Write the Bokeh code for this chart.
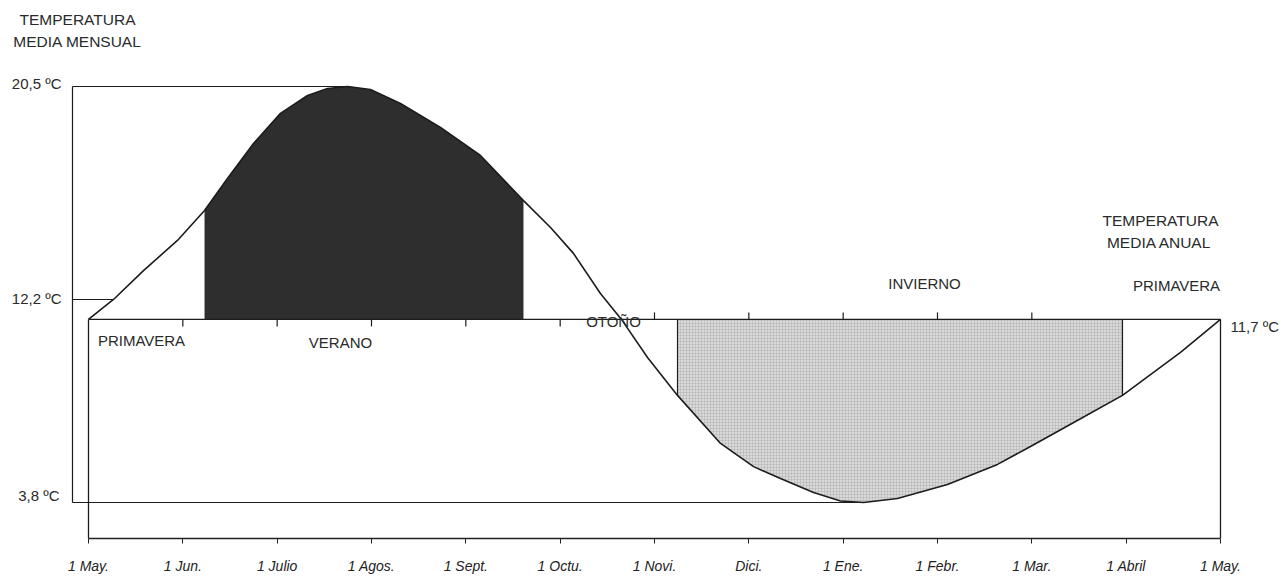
import numpy as np
from bokeh.plotting import figure
from bokeh.models import Range1d, FixedTicker, ColumnDataSource
from bokeh.core.properties import value
from bokeh.embed import file_html
from bokeh.resources import INLINE

# ---------------- data ----------------
month_labels = ["1 May.", "1 Jun.", "1 Julio", "1 Agos.", "1 Sept.", "1 Octu.",
                "1 Novi.", "Dici.", "1 Ene.", "1 Febr.", "1 Mar.", "1 Abril", "1 May."]

# months elapsed since 1 May
curve_month = [0.0, 0.265, 0.583, 0.943, 1.23, 1.473, 1.749, 2.035, 2.322, 2.534,
               2.746, 2.989, 3.307, 3.731, 4.155, 4.611, 4.898, 5.141, 5.427,
               5.650, 5.926, 6.244, 6.700, 7.050, 7.336, 7.686, 7.972, 8.216, 8.576,
               9.106, 9.636, 9.986, 10.463, 10.961, 11.576, 12.0]
# monthly mean temperature (ºC)
curve_temp = [11.15, 11.95, 13.11, 14.32, 15.52, 16.81, 18.21, 19.42, 20.14, 20.42,
              20.50, 20.38, 19.82, 18.86, 17.73, 15.92, 14.84, 13.80, 12.19,
              11.15, 9.62, 8.10, 6.17, 5.24, 4.76, 4.20, 3.86, 3.80, 3.96,
              4.52, 5.33, 6.05, 7.05, 8.10, 9.83, 11.15]

max_temp = 20.5          # "20,5 ºC"
spring_temp = 11.95      # "12,2 ºC" line as drawn
min_temp = 3.8           # "3,8 ºC"
annual_temp = 11.15      # "11,7 ºC" line as drawn

summer_span = (1.23, 4.611)    # black area
winter_span = (6.244, 10.961)  # hatched area

season_names = ["PRIMAVERA", "VERANO", "OTOÑO", "INVIERNO", "PRIMAVERA"]

# ---------------- figure ----------------
W, H = 1286, 581
PX_M = 1 / 94.333     # months per pixel
PX_T = 0.040144       # ºC per pixel
AXIS_Y = 538          # pixel row of the x axis line

def at(xp, yp):
    return (xp - 88) * PX_M, max_temp - (yp - 86) * PX_T

x0 = -88 * PX_M
p = figure(width=W, height=H, output_backend="svg", toolbar_location=None,
           x_range=Range1d(x0, x0 + W * PX_M),
           y_range=Range1d(max_temp - (AXIS_Y - 86) * PX_T, max_temp + 86 * PX_T),
           min_border_left=0, min_border_right=0, min_border_top=0,
           min_border_bottom=H - AXIS_Y, y_axis_location=None)
p.outline_line_color = None
p.grid.visible = False
p.background_fill_color = "white"
p.border_fill_color = "white"

ax = p.xaxis[0]
ax.ticker = FixedTicker(ticks=list(range(13)))
ax.major_label_overrides = {i: t for i, t in enumerate(month_labels)}
ax.bounds = (0, 12)
ax.minor_tick_line_color = None
ax.major_tick_in = 0
ax.major_tick_out = 5
ax.major_tick_line_color = "#222222"
ax.axis_line_color = "#222222"
ax.axis_line_width = 1.3
ax.major_label_standoff = 14
ax.major_label_text_font = "Liberation Sans"
ax.major_label_text_font_style = "italic"
ax.major_label_text_font_size = "14px"
ax.major_label_text_color = "#222222"

cm = np.array(curve_month)
ct = np.array(curve_temp)
LC = "#1c1c1c"

# filled areas
ms = (cm >= summer_span[0] - 1e-9) & (cm <= summer_span[1] + 1e-9)
p.varea(x=cm[ms], y1=np.full(ms.sum(), annual_temp), y2=ct[ms], fill_color="#2e2e2e")
mw = (cm >= winter_span[0] - 1e-9) & (cm <= winter_span[1] + 1e-9)
p.varea(x=cm[mw], y1=ct[mw], y2=np.full(mw.sum(), annual_temp), fill_color="#d9d9d9",
        hatch_pattern="+", hatch_color="#a0a0a0", hatch_scale=3, hatch_weight=0.5,
        hatch_alpha=0.7)

# winter area edges
wi0 = int(np.argmin(abs(cm - winter_span[0])))
wi1 = int(np.argmin(abs(cm - winter_span[1])))
p.segment(x0=[winter_span[0], winter_span[1]], y0=[annual_temp, annual_temp],
          x1=[winter_span[0], winter_span[1]], y1=[ct[wi0], ct[wi1]],
          line_color=LC, line_width=1.2)

# outer (monthly) reference box
box_x = -16 * PX_M
peak_m = cm[int(np.argmax(ct))]
min_m = cm[int(np.argmin(ct))]
p.segment(x0=[box_x, box_x, box_x, box_x],
          y0=[max_temp, max_temp, min_temp, spring_temp],
          x1=[peak_m, box_x, min_m, cm[1]],
          y1=[max_temp, min_temp, min_temp, spring_temp],
          line_color=LC, line_width=1.2)

# inner (annual) frame
bottom = p.y_range.start
p.segment(x0=[0, 0, 12], y0=[annual_temp, annual_temp, annual_temp],
          x1=[12, 0, 12], y1=[annual_temp, bottom, bottom],
          line_color=LC, line_width=1.3)

# small month ticks on the annual line
tick_len = 7 * PX_T
tm = list(range(1, 11))
p.segment(x0=tm, y0=[annual_temp] * len(tm), x1=tm,
          y1=[annual_temp - tick_len if m < 6 else annual_temp + tick_len for m in tm],
          line_color=LC, line_width=1.2)

# the curve
p.line(cm, ct, line_color=LC, line_width=1.6, line_join="round")

# ---------------- texts ----------------
FONT = value("Liberation Sans")
TC = "#2a2a2a"
FS = value("15px")

title_txt = ["TEMPERATURA", "MEDIA MENSUAL", "TEMPERATURA", "MEDIA ANUAL"]
title_pos = [at(77, 19), at(77, 41), at(1160, 220), at(1159, 242)]
src_t = ColumnDataSource(dict(x=[q[0] for q in title_pos], y=[q[1] for q in title_pos],
                              t=title_txt))
p.text(x="x", y="y", text="t", source=src_t, text_font=FONT, text_font_size=value("15.5px"),
       text_align="center", text_baseline="middle", text_color=TC)

season_pos = [at(141, 340), at(340, 342), at(613, 321), at(924, 283), at(1176, 285)]
src_c = ColumnDataSource(dict(x=[q[0] for q in season_pos], y=[q[1] for q in season_pos],
                              t=season_names))
p.text(x="x", y="y", text="t", source=src_c, text_font=FONT, text_font_size=FS,
       text_align="center", text_baseline="middle", text_color=TC)

right_txt = ["20,5 ºC", "12,2 ºC", "3,8 ºC"]
right_pos = [at(61, 83), at(61, 298), at(59, 495)]
src_r = ColumnDataSource(dict(x=[q[0] for q in right_pos], y=[q[1] for q in right_pos],
                              t=right_txt))
p.text(x="x", y="y", text="t", source=src_r, text_font=FONT, text_font_size=FS,
       text_align="right", text_baseline="middle", text_color=TC)

lx, ly = at(1230, 326)
p.text(x=[lx], y=[ly], text=["11,7 ºC"], text_font=FONT, text_font_size=FS,
       text_align="left", text_baseline="middle", text_color=TC)

open("out.html", "w").write(file_html(p, INLINE))
